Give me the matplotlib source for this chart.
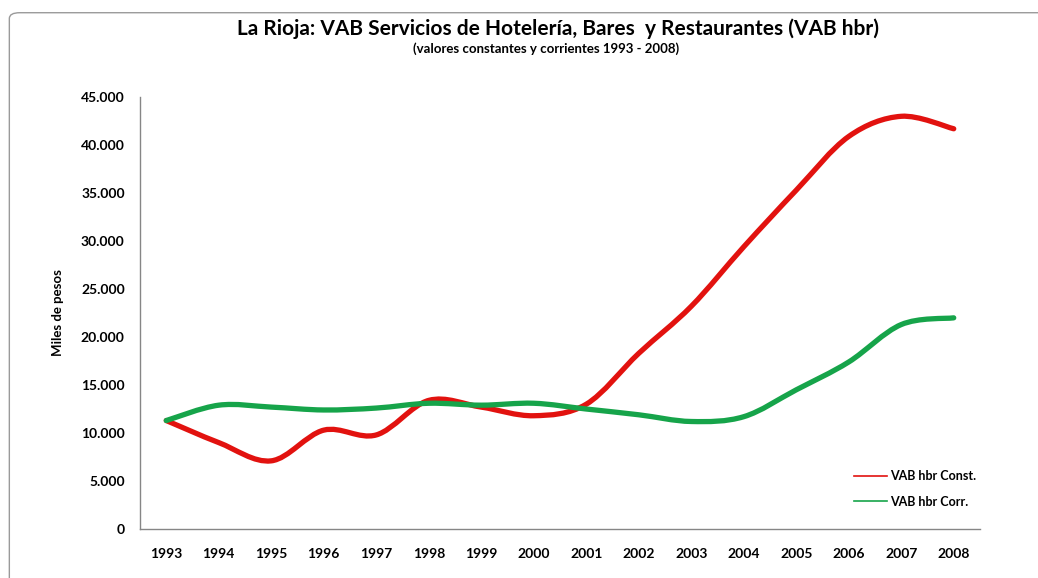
import matplotlib
matplotlib.use("Agg")
import matplotlib.pyplot as plt
from matplotlib.path import Path
from matplotlib.patches import PathPatch, FancyBboxPatch
from matplotlib.lines import Line2D
from matplotlib.ticker import FuncFormatter

plt.rcParams['font.family'] = ['Lato', 'DejaVu Sans']

years = [1993, 1994, 1995, 1996, 1997, 1998, 1999, 2000,
         2001, 2002, 2003, 2004, 2005, 2006, 2007, 2008]
vab_const = [11300, 9000, 7100, 10300, 9800, 13400, 12700, 11800,
             13000, 18300, 23200, 29400, 35300, 40900, 43000, 41700]
vab_corr = [11300, 12900, 12700, 12400, 12600, 13100, 12900, 13100,
            12500, 11900, 11200, 11700, 14500, 17400, 21300, 22000]


def smooth_path(xs, ys):
    # curva tipo "línea suavizada" de Excel (bezier cúbica entre puntos)
    verts = [(xs[0], ys[0])]
    codes = [Path.MOVETO]
    n = len(xs)
    for i in range(n - 1):
        x0, y0 = xs[max(i - 1, 0)], ys[max(i - 1, 0)]
        x1, y1 = xs[i], ys[i]
        x2, y2 = xs[i + 1], ys[i + 1]
        x3, y3 = xs[min(i + 2, n - 1)], ys[min(i + 2, n - 1)]
        c1 = (x1 + (x2 - x0) / 6, y1 + (y2 - y0) / 6)
        c2 = (x2 - (x3 - x1) / 6, y2 - (y3 - y1) / 6)
        verts += [c1, c2, (x2, y2)]
        codes += [Path.CURVE4] * 3
    return Path(verts, codes)


fig = plt.figure(figsize=(10.38, 5.78), dpi=100)
ax = fig.add_axes([0.1349, 0.0848, 0.8092, 0.7472])

# marco del gráfico
fig.patches.append(FancyBboxPatch((0.009, -0.05), 1.1, 1.028,
                                  boxstyle="round,pad=0,rounding_size=0.01",
                                  transform=fig.transFigure, fill=False,
                                  edgecolor='#9a9a9a', linewidth=1.0))

xs = list(range(len(years)))
red = '#E2120F'
green = '#16A44A'
ax.add_patch(PathPatch(smooth_path(xs, vab_const), fill=False,
                       edgecolor=red, linewidth=3.8, capstyle='round'))
ax.add_patch(PathPatch(smooth_path(xs, vab_corr), fill=False,
                       edgecolor=green, linewidth=3.8, capstyle='round'))

ax.set_xlim(-0.5, len(years) - 0.5)
ax.set_ylim(0, 45000)
ax.set_xticks(xs)
ax.set_xticklabels([str(y) for y in years])
ax.set_yticks(range(0, 45001, 5000))
ax.yaxis.set_major_formatter(FuncFormatter(lambda v, p: f"{int(v):,}".replace(',', '.')))
ax.tick_params(length=0, labelsize=10)
ax.tick_params(axis='x', pad=14)
ax.tick_params(axis='y', pad=11)
for lab in ax.get_xticklabels() + ax.get_yticklabels():
    lab.set_fontweight('bold')

for s in ['top', 'right']:
    ax.spines[s].set_visible(False)
for s in ['left', 'bottom']:
    ax.spines[s].set_color('#868686')
    ax.spines[s].set_linewidth(1.0)

ax.set_ylabel('Miles de pesos', fontsize=9.5, fontweight='bold', labelpad=12)

fig.text(0.538, 0.951, 'La Rioja: VAB Servicios de Hotelería, Bares  y Restaurantes (VAB hbr)',
         ha='center', va='center', fontsize=15, fontweight='bold')
fig.text(0.526, 0.916, '(valores constantes y corrientes 1993 - 2008)',
         ha='center', va='center', fontsize=9.5, fontweight='bold')

handles = [Line2D([], [], color=red, lw=1.2), Line2D([], [], color=green, lw=1.2)]
ax.legend(handles, ['VAB hbr Const.', 'VAB hbr Corr.'], loc='center right',
          bbox_to_anchor=(0.996, 0.0926), frameon=False, prop={'size': 9, 'weight': 'bold'},
          handlelength=2.6, handletextpad=0.3, labelspacing=1.1,
          borderpad=0, borderaxespad=0)

fig.savefig('out.png', dpi=100)
